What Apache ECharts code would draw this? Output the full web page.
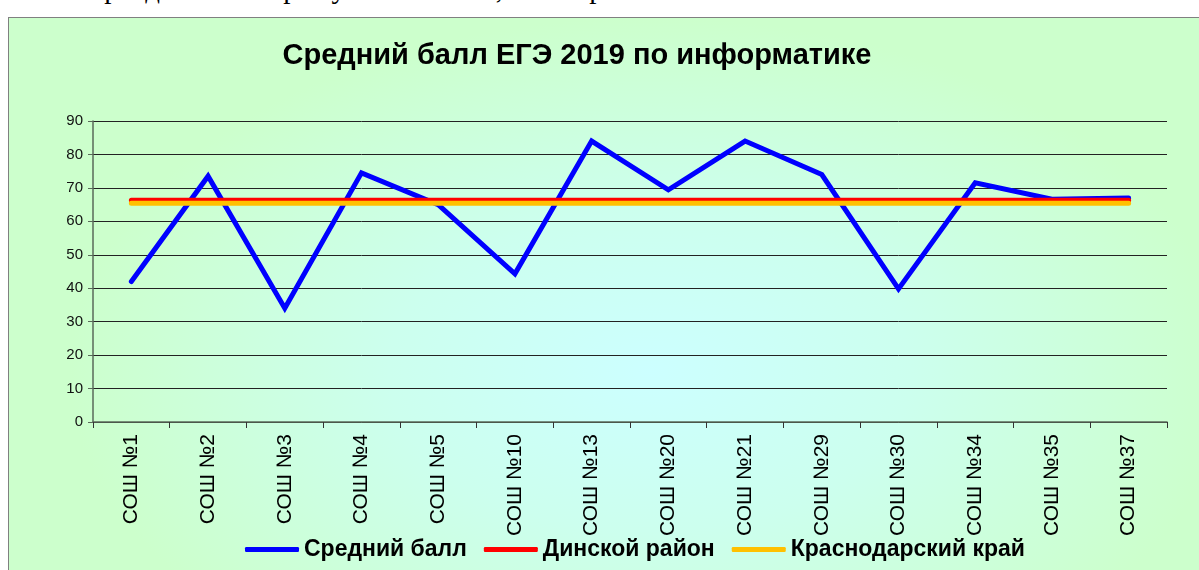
<!DOCTYPE html>
<html>
<head>
<meta charset="utf-8">
<script src="https://cdn.jsdelivr.net/npm/echarts@6/dist/echarts.min.js"></script>
<style>
    html, body { margin: 0; padding: 0; background: #fff; overflow: hidden; width: 1199px; height: 570px; }
    #top-text {
        position: absolute; left: 0; top: -26px; width: 766px; text-align: right;
        font-family: "Liberation Serif", "DejaVu Serif", serif; font-size: 29px; line-height: 29px;
        white-space: nowrap; color: #000;
    }
    #chart-box {
        position: absolute; left: 8px; top: 17px; width: 1210px; height: 570px;
        border: 1px solid #808080;
        background: radial-gradient(ellipse 48% 62% at 53% 62%, #ccffff 0%, #ccffee 45%, #ccffcc 100%);
    }
    #main { width: 1210px; height: 570px; }
</style>
</head>
<body>
<div id="top-text">не преодолели «порог успешности», не набрав 40 баллов.</div>
<div id="chart-box"><div id="main"></div></div>
<script>
// категории (школы)
const schools = ['СОШ №1', 'СОШ №2', 'СОШ №3', 'СОШ №4', 'СОШ №5', 'СОШ №10', 'СОШ №13',
    'СОШ №20', 'СОШ №21', 'СОШ №29', 'СОШ №30', 'СОШ №34', 'СОШ №35', 'СОШ №37'];
// средний балл по школам
const avgScore = [42, 73.5, 34, 74.5, 65, 44.3, 84, 69.4, 84, 74, 39.8, 71.5, 66.6, 67];
// Динской район
const districtScore = [66.3, 66.3, 66.3, 66.3, 66.3, 66.3, 66.3, 66.3, 66.3, 66.3, 66.3, 66.3, 66.3, 66.3];
// Краснодарский край
const regionScore = [65.4, 65.4, 65.4, 65.4, 65.4, 65.4, 65.4, 65.4, 65.4, 65.4, 65.4, 65.4, 65.4, 65.4];

const chart = echarts.init(document.getElementById('main'));
const font = 'Liberation Sans, Arial, sans-serif';

chart.setOption({
    animation: false,
    textStyle: { fontFamily: font },
    title: {
        text: 'Средний балл ЕГЭ 2019 по информатике',
        left: 563, top: 18, textAlign: 'center',
        textStyle: { fontSize: 29, fontWeight: 'bold', color: '#000', fontFamily: font }
    },
    legend: {
        left: 231, top: 515,
        icon: 'roundRect', itemWidth: 54, itemHeight: 5, itemGap: 17,
        textStyle: { fontSize: 23, fontWeight: 'bold', color: '#000', fontFamily: font },
        data: ['Средний балл', 'Динской район', 'Краснодарский край']
    },
    grid: { left: 84, top: 103, width: 1074, height: 301 },
    xAxis: {
        type: 'category',
        data: schools,
        boundaryGap: true,
        axisLine: { lineStyle: { color: '#5a6a5a', width: 1.5 } },
        axisTick: { show: true, length: 6, alignWithLabel: false, lineStyle: { color: '#333', width: 1 } },
        axisLabel: { rotate: 90, fontSize: 21, color: '#000', margin: 12, interval: 0 }
    },
    yAxis: {
        type: 'value', min: 0, max: 90, interval: 10,
        axisLine: { show: true, lineStyle: { color: '#5a6a5a', width: 1.5 } },
        axisTick: { show: true, length: 5, lineStyle: { color: '#5a6a5a' } },
        axisLabel: { fontSize: 15, color: '#111', margin: 10 },
        splitLine: { lineStyle: { color: '#222', width: 1 } }
    },
    series: [
        {
            name: 'Средний балл', type: 'line', data: avgScore,
            symbol: 'none', lineStyle: { color: '#0000ff', width: 5, cap: 'round', join: 'miter' },
            itemStyle: { color: '#0000ff' }
        },
        {
            name: 'Динской район', type: 'line', data: districtScore,
            symbol: 'none', lineStyle: { color: '#ff0000', width: 5, cap: 'round' },
            itemStyle: { color: '#ff0000' }
        },
        {
            name: 'Краснодарский край', type: 'line', data: regionScore,
            symbol: 'none', lineStyle: { color: '#ffc000', width: 5, cap: 'round' },
            itemStyle: { color: '#ffc000' }
        }
    ]
});
</script>
</body>
</html>
